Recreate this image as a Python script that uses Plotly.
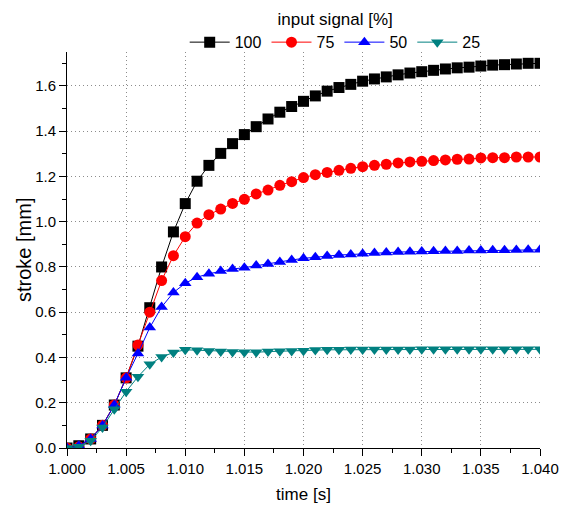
import plotly.graph_objects as go

time_s = [1.000, 1.001, 1.002, 1.003, 1.004, 1.005, 1.006, 1.007, 1.008, 1.009,
          1.010, 1.011, 1.012, 1.013, 1.014, 1.015, 1.016, 1.017, 1.018, 1.019,
          1.020, 1.021, 1.022, 1.023, 1.024, 1.025, 1.026, 1.027, 1.028, 1.029,
          1.030, 1.031, 1.032, 1.033, 1.034, 1.035, 1.036, 1.037, 1.038, 1.039, 1.040]

s100 = [0.0, 0.01, 0.04, 0.10, 0.19, 0.31, 0.45, 0.62, 0.80, 0.955,
        1.08, 1.179, 1.249, 1.302, 1.345, 1.385, 1.420, 1.454, 1.484, 1.509,
        1.532, 1.556, 1.577, 1.593, 1.607, 1.621, 1.631, 1.640, 1.649, 1.657,
        1.663, 1.669, 1.675, 1.680, 1.683, 1.688, 1.692, 1.694, 1.697, 1.700, 1.700]

s75 = [0.0, 0.005, 0.04, 0.10, 0.19, 0.31, 0.455, 0.60, 0.74, 0.85,
       0.934, 0.994, 1.031, 1.056, 1.081, 1.099, 1.123, 1.140, 1.161, 1.177,
       1.195, 1.208, 1.218, 1.227, 1.236, 1.243, 1.249, 1.254, 1.260, 1.264,
       1.267, 1.270, 1.273, 1.276, 1.277, 1.282, 1.283, 1.283, 1.286, 1.286, 1.286]

s50 = [0.0, 0.01, 0.04, 0.099, 0.19, 0.31, 0.418, 0.532, 0.623, 0.687,
       0.728, 0.755, 0.770, 0.782, 0.791, 0.797, 0.806, 0.813, 0.822, 0.831,
       0.838, 0.843, 0.849, 0.853, 0.855, 0.858, 0.862, 0.864, 0.866, 0.867,
       0.868, 0.870, 0.871, 0.871, 0.873, 0.873, 0.874, 0.874, 0.875, 0.876, 0.876]

s25 = [0.0, 0.006, 0.032, 0.091, 0.171, 0.249, 0.315, 0.370, 0.402, 0.422,
       0.434, 0.432, 0.429, 0.426, 0.424, 0.423, 0.423, 0.426, 0.428, 0.429,
       0.430, 0.433, 0.434, 0.434, 0.435, 0.435, 0.435, 0.435, 0.435, 0.435,
       0.436, 0.436, 0.436, 0.436, 0.436, 0.436, 0.436, 0.436, 0.436, 0.436, 0.436]

series = [
    ("100", s100, "#000000", "square"),
    ("75", s75, "#ff0000", "circle"),
    ("50", s50, "#0000ff", "triangle-up"),
    ("25", s25, "#008080", "triangle-down"),
]

FONT = "Arial"

fig = go.Figure()
for name, ys, color, sym in series:
    fig.add_trace(go.Scatter(
        x=time_s, y=ys, name=name, mode="lines+markers",
        line=dict(color=color, width=1),
        marker=dict(symbol=sym, size=11, color=color),
    ))

GRID = dict(showgrid=True, gridcolor="#8c8c8c", griddash="1px,3px", gridwidth=1)

fig.update_layout(
    width=565, height=508,
    margin=dict(l=67, r=25, t=52, b=60, autoexpand=False),
    plot_bgcolor="white", paper_bgcolor="white",
    font=dict(family=FONT, size=15, color="black"),
    legend=dict(
        orientation="h", x=0.567, xanchor="center", y=0.982, yanchor="bottom",
        bgcolor="rgba(0,0,0,0)",
        title=dict(text="input signal [%]", side="top center", font=dict(size=17)),
        font=dict(size=16), itemwidth=40, tracegroupgap=0,
    ),
    xaxis=dict(
        range=[1.000, 1.040], tickvals=[1.000, 1.005, 1.010, 1.015, 1.020, 1.025, 1.030, 1.035, 1.040],
        tickformat=".3f", ticks="outside", ticklen=7, tickwidth=1, tickcolor="black",
        showline=True, linecolor="black", linewidth=1,
        zeroline=False, **GRID, automargin=True,
        minor=dict(dtick=0.0025, tick0=1.0, ticks="outside", ticklen=4, tickcolor="black", showgrid=False),
        title=dict(text="time [s]", font=dict(size=17), standoff=12),
        tickfont=dict(size=15),
    ),
    yaxis=dict(
        range=[0, 1.75], tickvals=[0, 0.2, 0.4, 0.6, 0.8, 1.0, 1.2, 1.4, 1.6],
        tickformat=".1f", ticks="outside", ticklen=7, tickwidth=1, tickcolor="black",
        showline=True, linecolor="black", linewidth=1,
        zeroline=False, **GRID,
        minor=dict(dtick=0.1, tick0=0, ticks="outside", ticklen=4, tickcolor="black", showgrid=False),
        tickfont=dict(size=15),
    ),
    annotations=[dict(
        text="stroke [mm]", xref="paper", yref="paper", x=0, y=0.5,
        xanchor="center", yanchor="middle", xshift=-43, textangle=-90,
        showarrow=False, font=dict(size=20),
    )],
)

fig.write_html("out.html")
